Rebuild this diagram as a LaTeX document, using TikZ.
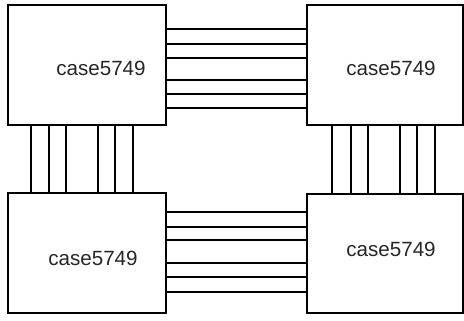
\documentclass[tikz,border=0pt]{standalone}
\usepackage{fontspec}
\setmainfont{Liberation Sans}
\usetikzlibrary{positioning}
\tikzset{
  casebox/.style ={draw, rectangle, inner sep=0pt, outer sep=0pt,
                   line width=1.3pt, fill=white},
  caselbl/.style ={font=\fontsize{10.3}{12}\selectfont, text=black!85},
  wire/.style    ={line width=1pt, black},
}

\begin{document}
\begin{tikzpicture}[x=0.5pt, y=-0.5pt]
\useasboundingbox (0,0) rectangle (464,320);
% boxes
\node[casebox, minimum width=79pt, minimum height=60pt] (tl) at (87,65) {};
\node[casebox, minimum width=78pt, minimum height=60pt] (tr) at (385,65) {};
\node[casebox, minimum width=79pt, minimum height=60pt] (bl) at (87,253) {};
\node[casebox, minimum width=78pt, minimum height=59.5pt] (br) at (385,253.5) {};
% labels
\node[caselbl] (ltl) at (101,68) {case5749};
\node[caselbl] (ltr) at (391,68) {case5749};
\node[caselbl] (lbl) at (93,258) {case5749};
\node[caselbl] (lbr) at (391,249) {case5749};
% horizontal buses
\foreach \y in {29,44,58,80,94,108}
  \draw[wire] (tl.east |- 0,\y) -- (tr.west |- 0,\y);
\foreach \y in {212,227,240,263,277,292}
  \draw[wire] (bl.east |- 0,\y) -- (br.west |- 0,\y);
% vertical buses
\foreach \x in {31,49,66,98,115,133}
  \draw[wire] (tl.south -| \x,0) -- (bl.north -| \x,0);
\foreach \x in {332,351,368,400,417,435}
  \draw[wire] (tr.south -| \x,0) -- (br.north -| \x,0);
\end{tikzpicture}
\end{document}
